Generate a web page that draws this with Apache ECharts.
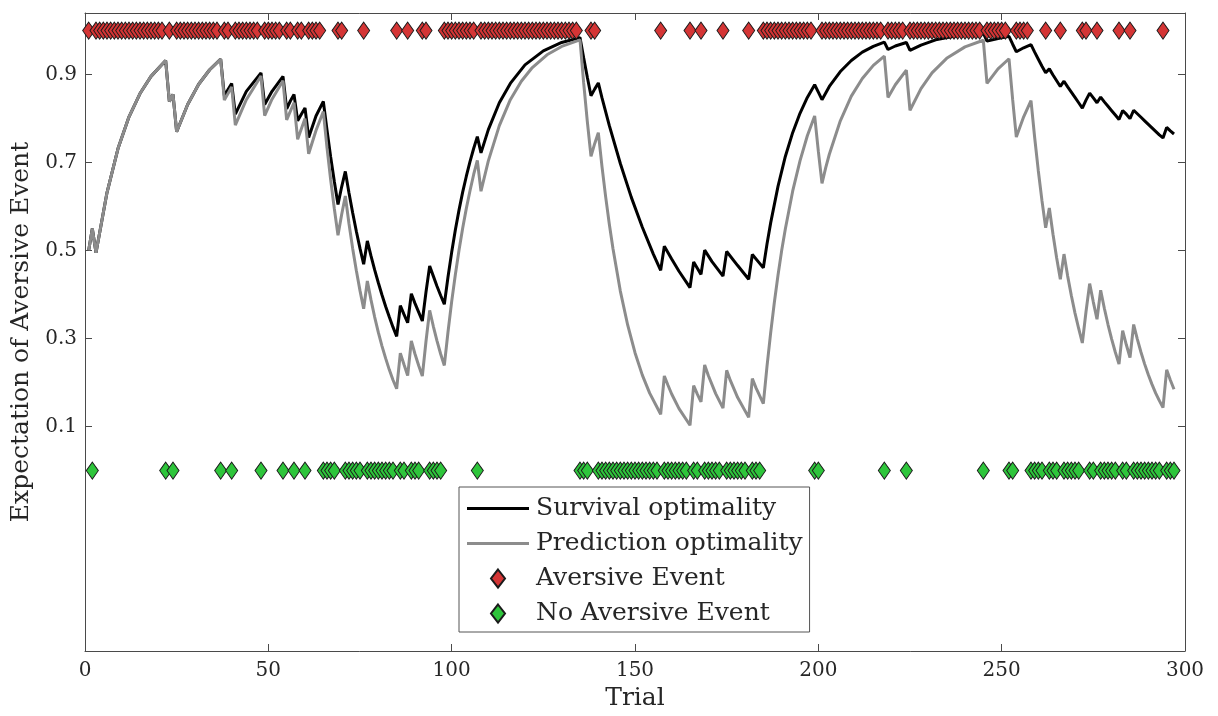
<!DOCTYPE html>
<html>
<head>
<meta charset="utf-8">
<script src="https://cdn.jsdelivr.net/npm/echarts@6/dist/echarts.min.js"></script>
<style>
html,body{margin:0;padding:0;background:#fff;}
#chart{width:1218px;height:716px;}
</style>
</head>
<body>
<div id="chart"></div>
<script>
// ---- data ----
const xTicks = [0, 50, 100, 150, 200, 250, 300];
const yTicks = [0.1, 0.3, 0.5, 0.7, 0.9];

const aversiveTrials = [1,3,4,5,6,7,8,9,10,11,12,13,14,15,16,17,18,19,20,21,
23,25,26,27,28,29,30,31,32,33,34,35,36,
38,39,41,42,43,44,45,46,47,49,50,51,52,53,55,56,58,59,61,62,63,64,
69,70,76,85,88,92,93,
98,99,100,101,102,103,104,105,106,
108,109,110,111,112,113,114,115,116,117,118,119,120,121,122,123,124,125,126,127,128,129,130,131,132,133,134,
138,139,157,165,168,174,181,
185,186,187,188,189,190,191,192,193,194,195,196,197,198,
201,202,203,204,205,206,207,208,209,210,211,212,213,214,215,216,217,
219,220,221,222,223,
225,226,227,228,229,230,231,232,233,234,235,236,237,238,239,240,241,242,243,244,
246,247,248,249,250,251,254,255,256,257,
262,266,272,273,276,282,285,294];

const noAversiveTrials = [2,22,24,37,40,48,54,57,60,
65,66,67,68,71,72,73,74,75,77,78,79,80,81,82,83,84,86,87,89,90,91,94,95,96,97,
107,135,136,137,
140,141,142,143,144,145,146,147,148,149,150,151,152,153,154,155,156,
158,159,160,161,162,163,164,166,167,169,170,171,172,173,175,176,177,178,179,180,182,183,184,
199,200,218,224,245,252,253,
258,259,260,261,263,264,265,267,268,269,270,271,274,275,277,278,279,280,281,283,284,286,287,288,289,290,291,292,293,295,296,297];

const aversiveLevel = 1;
const noAversiveLevel = 0;

// [trial, expectation]
const survivalPoints = [[1,0.5],[2,0.55],[3,0.495],[6,0.632],[9,0.732],[12,0.804],[15,0.857],[18,0.896],[22,0.932],[23,0.839],[24,0.855],[25,0.77],[28,0.832],[31,0.878],[34,0.911],[37,0.935],[38,0.852],[39,0.866],[40,0.88],[41,0.81],[44,0.862],[48,0.904],[49,0.832],[51,0.862],[54,0.896],[55,0.822],[56,0.84],[57,0.855],[58,0.795],[59,0.81],[60,0.824],[61,0.757],[63,0.806],[65,0.839],[66,0.774],[67,0.713],[68,0.657],[69,0.605],[70,0.645],[71,0.68],[72,0.631],[73,0.586],[74,0.544],[75,0.505],[76,0.469],[77,0.522],[78,0.488],[79,0.456],[80,0.427],[81,0.399],[82,0.373],[83,0.349],[84,0.326],[85,0.305],[86,0.375],[87,0.355],[88,0.336],[89,0.402],[90,0.38],[91,0.36],[92,0.34],[93,0.406],[94,0.465],[95,0.442],[96,0.419],[97,0.398],[98,0.378],[99,0.44],[100,0.496],[101,0.547],[102,0.592],[103,0.633],[104,0.669],[105,0.702],[106,0.732],[107,0.759],[108,0.722],[110,0.775],[113,0.836],[116,0.88],[120,0.922],[125,0.954],[130,0.973],[135,0.984],[136,0.938],[137,0.894],[138,0.852],[139,0.867],[140,0.881],[141,0.847],[143,0.784],[146,0.698],[149,0.621],[152,0.553],[155,0.492],[157,0.455],[158,0.51],[160,0.481],[162,0.453],[165,0.416],[166,0.474],[167,0.46],[168,0.446],[169,0.501],[171,0.475],[174,0.442],[175,0.498],[178,0.466],[181,0.435],[182,0.491],[184,0.471],[185,0.461],[186,0.515],[187,0.563],[189,0.646],[191,0.714],[193,0.768],[195,0.812],[197,0.848],[199,0.877],[200,0.86],[201,0.843],[203,0.873],[206,0.907],[209,0.932],[212,0.951],[215,0.964],[218,0.974],[219,0.957],[221,0.965],[224,0.973],[225,0.955],[228,0.967],[232,0.979],[237,0.987],[241,0.992],[245,0.994],[246,0.976],[249,0.982],[252,0.987],[253,0.969],[254,0.952],[256,0.961],[258,0.968],[259,0.951],[260,0.935],[261,0.919],[262,0.904],[263,0.913],[264,0.899],[265,0.886],[266,0.873],[267,0.885],[268,0.872],[269,0.86],[270,0.848],[271,0.836],[272,0.824],[273,0.842],[274,0.858],[275,0.847],[276,0.836],[277,0.849],[278,0.838],[279,0.828],[280,0.818],[281,0.808],[282,0.798],[283,0.818],[284,0.81],[285,0.8],[286,0.819],[287,0.811],[288,0.803],[289,0.795],[290,0.787],[291,0.779],[292,0.771],[293,0.763],[294,0.756],[295,0.78],[296,0.772],[297,0.765]];

const predictionPoints = [[1,0.5],[2,0.55],[3,0.495],[6,0.632],[9,0.732],[12,0.804],[15,0.857],[18,0.896],[22,0.932],[23,0.839],[24,0.855],[25,0.77],[28,0.832],[31,0.878],[34,0.911],[37,0.935],[38,0.842],[40,0.872],[41,0.785],[44,0.843],[48,0.897],[49,0.807],[51,0.844],[54,0.886],[55,0.797],[57,0.836],[58,0.753],[60,0.8],[61,0.72],[63,0.773],[65,0.816],[66,0.734],[67,0.661],[68,0.595],[69,0.535],[70,0.582],[71,0.624],[72,0.561],[73,0.505],[74,0.455],[75,0.409],[76,0.368],[77,0.431],[78,0.388],[79,0.349],[80,0.314],[81,0.283],[82,0.255],[83,0.229],[84,0.206],[85,0.186],[86,0.267],[87,0.241],[88,0.216],[89,0.295],[90,0.265],[91,0.239],[92,0.215],[93,0.294],[94,0.364],[95,0.328],[96,0.295],[97,0.265],[98,0.239],[99,0.315],[100,0.384],[101,0.445],[102,0.501],[103,0.551],[104,0.596],[105,0.636],[106,0.673],[107,0.705],[108,0.635],[110,0.704],[113,0.784],[116,0.843],[119,0.885],[122,0.916],[126,0.945],[130,0.964],[135,0.979],[136,0.881],[137,0.793],[138,0.714],[139,0.743],[140,0.768],[141,0.691],[142,0.622],[143,0.56],[144,0.504],[146,0.408],[148,0.331],[150,0.268],[152,0.217],[154,0.176],[157,0.128],[158,0.215],[159,0.194],[160,0.174],[162,0.141],[165,0.103],[166,0.193],[167,0.174],[168,0.156],[169,0.24],[170,0.216],[172,0.175],[174,0.142],[175,0.228],[176,0.205],[178,0.166],[181,0.121],[182,0.209],[183,0.188],[185,0.152],[186,0.237],[187,0.313],[188,0.382],[189,0.444],[190,0.5],[191,0.549],[193,0.635],[195,0.704],[197,0.761],[199,0.806],[200,0.726],[201,0.653],[202,0.688],[203,0.719],[206,0.795],[209,0.851],[212,0.891],[215,0.921],[218,0.942],[219,0.848],[221,0.877],[224,0.91],[225,0.819],[228,0.868],[231,0.904],[235,0.937],[240,0.963],[245,0.978],[246,0.88],[249,0.913],[252,0.936],[253,0.843],[254,0.758],[256,0.804],[258,0.841],[259,0.757],[260,0.681],[261,0.613],[262,0.552],[263,0.597],[264,0.537],[265,0.483],[266,0.435],[267,0.492],[268,0.442],[269,0.398],[270,0.358],[271,0.323],[272,0.29],[273,0.361],[274,0.425],[275,0.383],[276,0.344],[277,0.41],[278,0.369],[279,0.332],[280,0.299],[281,0.269],[282,0.242],[283,0.318],[284,0.286],[285,0.257],[286,0.332],[287,0.299],[288,0.269],[289,0.242],[290,0.218],[291,0.196],[292,0.176],[293,0.159],[294,0.143],[295,0.229],[296,0.206],[297,0.185]];

// ---- chart ----
const FONT = 'DejaVu Serif';
const AXIS_COLOR = '#4a4a4a';
const TEXT_COLOR = '#262626';
const chart = echarts.init(document.getElementById('chart'), null, {renderer: 'canvas'});

const baseX = {
  type: 'value', min: 0, max: 300, interval: 50,
  splitLine: {show: false},
  axisLine: {show: true, onZero: false, lineStyle: {color: AXIS_COLOR, width: 1}},
  axisTick: {show: true, inside: true, length: 7, lineStyle: {color: AXIS_COLOR}},
};
const baseY = {
  type: 'value', min: -0.41, max: 1.04,
  splitLine: {show: false},
  axisLine: {show: true, onZero: false, lineStyle: {color: AXIS_COLOR, width: 1}},
  axisTick: {show: true, inside: true, length: 7, customValues: yTicks, lineStyle: {color: AXIS_COLOR}},
};

const lineIcon = 'path://M0,0H62V3H0Z';
const diamondIcon = 'path://M7,0L14,9L7,18L0,9Z';

chart.setOption({
  animation: false,
  backgroundColor: '#ffffff',
  grid: {left: 85, right: 33, top: 13, bottom: 64, containLabel: false},
  xAxis: [
    Object.assign({}, baseX, {
      position: 'bottom',
      name: 'Trial', nameLocation: 'middle', nameGap: 35,
      nameTextStyle: {fontFamily: FONT, fontSize: 25, color: TEXT_COLOR},
      axisLabel: {show: true, margin: 10, fontFamily: FONT, fontSize: 20, color: TEXT_COLOR,
        customValues: xTicks}
    }),
    Object.assign({}, baseX, {position: 'top', axisLabel: {show: false}})
  ],
  yAxis: [
    Object.assign({}, baseY, {
      position: 'left',
      name: 'Expectation of Aversive Event', nameLocation: 'middle', nameGap: 49, nameRotate: 90,
      nameTextStyle: {fontFamily: FONT, fontSize: 25, color: TEXT_COLOR},
      axisLabel: {show: true, margin: 8, fontFamily: FONT, fontSize: 20, color: TEXT_COLOR,
        customValues: yTicks, formatter: v => v.toFixed(1)}
    }),
    Object.assign({}, baseY, {position: 'right', axisLabel: {show: false}})
  ],
  legend: {
    show: true,
    orient: 'vertical',
    left: 459, top: 487,
    padding: [9, 7, 6, 8],
    itemGap: 10,
    itemWidth: 62, itemHeight: 18,
    symbolKeepAspect: true,
    backgroundColor: '#ffffff',
    borderColor: '#555555', borderWidth: 1,
    textStyle: {fontFamily: FONT, fontSize: 25, color: TEXT_COLOR, padding: [0,0,0,2]},
    data: [
      {name: 'Survival optimality', icon: lineIcon},
      {name: 'Prediction optimality', icon: lineIcon},
      {name: 'Aversive Event', icon: diamondIcon},
      {name: 'No Aversive Event', icon: diamondIcon}
    ]
  },
  series: [
    {
      name: 'Survival optimality', type: 'line', xAxisIndex: 0, yAxisIndex: 0,
      data: survivalPoints, symbol: 'none', showSymbol: false,
      lineStyle: {color: '#000000', width: 3}, itemStyle: {color: '#000000'}, z: 2
    },
    {
      name: 'Prediction optimality', type: 'line', xAxisIndex: 0, yAxisIndex: 0,
      data: predictionPoints, symbol: 'none', showSymbol: false,
      lineStyle: {color: '#8c8c8c', width: 3}, itemStyle: {color: '#8c8c8c'}, z: 3
    },
    {
      name: 'Aversive Event', type: 'scatter', xAxisIndex: 0, yAxisIndex: 0,
      data: aversiveTrials.map(t => [t, aversiveLevel]),
      symbol: 'diamond', symbolSize: [12, 17],
      itemStyle: {color: '#d43535', borderColor: '#1a1a1a', borderWidth: 1, opacity: 1}, z: 4
    },
    {
      name: 'No Aversive Event', type: 'scatter', xAxisIndex: 0, yAxisIndex: 0,
      data: noAversiveTrials.map(t => [t, noAversiveLevel]),
      symbol: 'diamond', symbolSize: [12, 17],
      itemStyle: {color: '#2ec53b', borderColor: '#1a1a1a', borderWidth: 1, opacity: 1}, z: 4
    }
  ]
});
</script>
</body>
</html>
